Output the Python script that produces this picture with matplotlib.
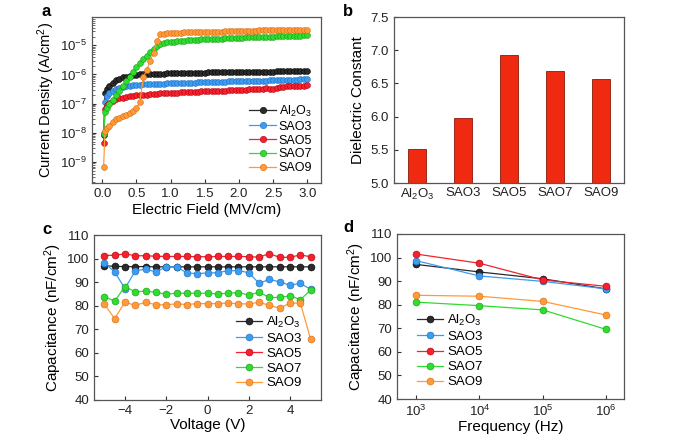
import numpy as np
import matplotlib
matplotlib.use("Agg")
import matplotlib.pyplot as plt

plt.rcParams['font.family'] = ['Liberation Sans', 'DejaVu Sans']
plt.rcParams['mathtext.fontset'] = 'custom'
plt.rcParams['mathtext.rm'] = 'Liberation Sans'
plt.rcParams['mathtext.it'] = 'Liberation Sans'

names = [r'Al$_2$O$_3$', 'SAO3', 'SAO5', 'SAO7', 'SAO9']
colors = ['#2b2b2b', '#3d9bf0', '#f5222d', '#2fdc2f', '#ff9a3a']
edges = ['#000000', '#1f6fc0', '#b00010', '#1a9a1a', '#d86a10']

# (a) J-E sweep, log10 of current density (A/cm2)
field = np.concatenate([[0.02, 0.04, 0.07], np.arange(0.10, 3.001, 0.05)])
logj_al2o3 = [-8.08, -6.65, -6.5, -6.4, -6.28, -6.2, -6.14, -6.1, -6.07, -6.05, -6.03,
              -6.01, -6.0, -5.99, -5.99, -5.98, -5.98, -5.97, -5.97, -5.97, -5.96, -5.96,
              -5.96, -5.96, -5.95, -5.95, -5.95, -5.95, -5.94, -5.94, -5.94, -5.94,
              -5.93, -5.93, -5.93, -5.93, -5.92, -5.92, -5.92, -5.92, -5.92, -5.91,
              -5.91, -5.91, -5.91, -5.91, -5.9, -5.9, -5.9, -5.9, -5.9, -5.9,
              -5.89, -5.89, -5.89, -5.89, -5.89, -5.88, -5.88, -5.88, -5.88, -5.88]
logj_sao3 = [-8.0, -6.95, -6.75, -6.65, -6.55, -6.49, -6.45, -6.42, -6.4, -6.38, -6.37,
             -6.36, -6.35, -6.34, -6.33, -6.33, -6.32, -6.32, -6.31, -6.31, -6.3, -6.3,
             -6.3, -6.29, -6.29, -6.29, -6.28, -6.28, -6.28, -6.27, -6.27, -6.27,
             -6.26, -6.26, -6.26, -6.25, -6.25, -6.25, -6.24, -6.24, -6.24, -6.23,
             -6.23, -6.23, -6.22, -6.22, -6.22, -6.21, -6.21, -6.21, -6.2, -6.2,
             -6.2, -6.19, -6.19, -6.19, -6.18, -6.18, -6.18, -6.17, -6.17, -6.17]
logj_sao5 = [-8.35, -7.2, -7.05, -6.98, -6.9, -6.85, -6.82, -6.79, -6.77, -6.75, -6.74,
             -6.72, -6.71, -6.7, -6.69, -6.68, -6.67, -6.66, -6.65, -6.65, -6.64, -6.63,
             -6.63, -6.62, -6.61, -6.61, -6.6, -6.6, -6.59, -6.59, -6.58, -6.58,
             -6.57, -6.57, -6.56, -6.56, -6.55, -6.55, -6.54, -6.54, -6.53, -6.53,
             -6.52, -6.52, -6.51, -6.51, -6.5, -6.5, -6.49, -6.48, -6.5, -6.51,
             -6.47, -6.44, -6.42, -6.41, -6.41, -6.4, -6.39, -6.39, -6.38, -6.37]
logj_sao7 = [-8.05, -7.3, -7.15, -7.02, -6.88, -6.72, -6.56, -6.4, -6.24, -6.08, -5.92,
             -5.76, -5.62, -5.48, -5.36, -5.24, -5.12, -5.03, -4.97, -4.93, -4.9, -4.88,
             -4.87, -4.86, -4.85, -4.84, -4.83, -4.82, -4.82, -4.81, -4.8, -4.8,
             -4.79, -4.78, -4.78, -4.77, -4.77, -4.76, -4.76, -4.75, -4.75, -4.74,
             -4.74, -4.73, -4.73, -4.72, -4.72, -4.71, -4.71, -4.7, -4.7, -4.7,
             -4.69, -4.69, -4.69, -4.68, -4.68, -4.68, -4.67, -4.67, -4.66, -4.66]
logj_sao9 = [-9.16, -7.95, -7.85, -7.75, -7.62, -7.54, -7.48, -7.43, -7.38, -7.32, -7.25,
             -7.15, -6.95, -6.1, -5.85, -5.55, -5.25, -4.85, -4.62, -4.6, -4.59, -4.58,
             -4.58, -4.57, -4.57, -4.56, -4.56, -4.56, -4.55, -4.55, -4.55, -4.54,
             -4.54, -4.54, -4.53, -4.53, -4.53, -4.52, -4.52, -4.52, -4.51, -4.51,
             -4.51, -4.5, -4.5, -4.5, -4.5, -4.49, -4.49, -4.49, -4.48, -4.48,
             -4.48, -4.48, -4.47, -4.47, -4.47, -4.47, -4.46, -4.46, -4.46, -4.46]

# (b) dielectric constant
k_values = [5.51, 5.98, 6.93, 6.68, 6.56]

# (c) C-V, nF/cm2
voltage = [-5, -4.5, -4, -3.5, -3, -2.5, -2, -1.5, -1, -0.5, 0,
           0.5, 1, 1.5, 2, 2.5, 3, 3.5, 4, 4.5, 5]
cv_al2o3 = [97.0, 96.7, 96.6, 96.6, 96.6, 96.5, 96.5, 96.5, 96.5, 96.5, 96.5,
            96.5, 96.5, 96.5, 96.5, 96.5, 96.5, 96.5, 96.5, 96.5, 96.5]
cv_sao3 = [98.3, 94.3, 87.3, 94.8, 95.5, 94.3, 96.5, 96.5, 93.9, 93.6, 93.9,
           94.0, 94.9, 94.9, 94.0, 89.5, 91.2, 90.1, 88.7, 89.5, 86.9]
cv_sao5 = [101.3, 101.4, 102.0, 101.2, 101.2, 101.0, 100.9, 100.9, 100.9, 100.8, 100.8,
           100.9, 100.9, 100.9, 100.8, 100.6, 102.1, 100.5, 100.6, 101.5, 100.8]
cv_sao7 = [83.9, 81.9, 88.1, 85.9, 86.2, 85.7, 84.9, 85.3, 85.3, 85.3, 85.3,
           85.0, 85.3, 85.6, 84.5, 85.7, 83.5, 83.5, 84.2, 82.6, 86.6]
cv_sao9 = [80.8, 74.5, 81.6, 80.1, 81.5, 80.4, 80.4, 80.8, 80.5, 80.9, 80.9,
           80.9, 81.1, 80.9, 80.7, 81.5, 80.1, 79.0, 81.1, 81.1, 65.7]

# (d) C-f, nF/cm2
freq = [1e3, 1e4, 1e5, 1e6]
cf_al2o3 = [97.1, 93.9, 91.0, 86.7]
cf_sao3 = [98.7, 92.2, 89.9, 86.7]
cf_sao5 = [101.5, 97.6, 90.5, 87.8]
cf_sao7 = [81.1, 79.6, 77.8, 69.5]
cf_sao9 = [84.0, 83.6, 81.4, 75.6]

W, H = 686, 443
fig = plt.figure(figsize=(W / 100, H / 100), dpi=100)


def box(l, t, r, b):
    return [l / W, 1 - b / H, (r - l) / W, (b - t) / H]


def style(ax):
    for s in ax.spines.values():
        s.set_color('#555555')
        s.set_linewidth(0.9)
    ax.tick_params(direction='in', labelsize=9.5, colors='#333333',
                   labelcolor='#222222', length=3, width=0.8)
    ax.tick_params(which='minor', direction='in', length=1.8, width=0.6, colors='#555555')


ax_a = fig.add_axes(box(92, 17, 321, 183))
ax_b = fig.add_axes(box(394, 17, 624, 183))
ax_c = fig.add_axes(box(94, 235, 321, 400))
ax_d = fig.add_axes(box(397, 234, 624, 399))

# panel a
for lj, name, c, e in zip([logj_al2o3, logj_sao3, logj_sao5, logj_sao7, logj_sao9],
                          names, colors, edges):
    ax_a.plot(field, 10 ** np.array(lj), '-o', color=c, mfc=c, mec=e, mew=0.4,
              ms=4.2, lw=0.9, label=name)
ax_a.set_yscale('log')
ax_a.set_xlim(-0.15, 3.2)
ax_a.set_ylim(10 ** -9.72, 10 ** -4.03)
ax_a.set_xticks([0, 0.5, 1, 1.5, 2, 2.5, 3])
ax_a.set_xticklabels(['0.0', '0.5', '1.0', '1.5', '2.0', '2.5', '3.0'])
ax_a.set_yticks([1e-9, 1e-8, 1e-7, 1e-6, 1e-5])
ax_a.set_xlabel('Electric Field (MV/cm)', fontsize=11, labelpad=2)
ax_a.set_ylabel(r'Current Density (A/cm$^2$)', fontsize=10.5, labelpad=2)
style(ax_a)
ax_a.legend(loc='lower right', frameon=False, fontsize=9, handlelength=2.2,
            handletextpad=0.2, labelspacing=0.15, borderaxespad=0.3, numpoints=1,
            markerscale=1.1)

# panel b
ax_b.bar(range(len(names)), np.array(k_values) - 5.0, bottom=5.0, width=0.4,
         color='#f02a10', edgecolor='#8a1a0a', linewidth=0.6)
ax_b.set_xlim(-0.5, 4.5)
ax_b.set_ylim(5.0, 7.5)
ax_b.set_xticks(range(len(names)))
ax_b.set_xticklabels(names)
ax_b.set_yticks([5.0, 5.5, 6.0, 6.5, 7.0, 7.5])
ax_b.set_ylabel('Dielectric Constant', fontsize=11, labelpad=4)
style(ax_b)
ax_b.tick_params(axis='x', length=0, pad=3)

# panel c
for cv, name, c, e in zip([cv_al2o3, cv_sao3, cv_sao5, cv_sao7, cv_sao9], names, colors, edges):
    ax_c.plot(voltage, cv, '-o', color=c, mfc=c, mec=e, mew=0.4, ms=5, lw=0.9, label=name)
ax_c.set_xlim(-5.5, 5.5)
ax_c.set_ylim(40, 110)
ax_c.set_xticks([-4, -2, 0, 2, 4])
ax_c.set_yticks(range(40, 111, 10))
ax_c.set_xlabel('Voltage (V)', fontsize=11, labelpad=1)
ax_c.set_ylabel(r'Capacitance (nF/cm$^2$)', fontsize=11, labelpad=2)
style(ax_c)
ax_c.legend(loc='lower right', frameon=False, fontsize=9.5, handlelength=2.0,
            handletextpad=0.3, labelspacing=0.2, borderaxespad=0.4, numpoints=1,
            bbox_to_anchor=(0.96, 0.0))

# panel d
for cf, name, c, e in zip([cf_al2o3, cf_sao3, cf_sao5, cf_sao7, cf_sao9], names, colors, edges):
    ax_d.plot(freq, cf, '-o', color=c, mfc=c, mec=e, mew=0.4, ms=5, lw=0.9, label=name)
ax_d.set_xscale('log')
ax_d.set_xlim(10 ** 2.7, 10 ** 6.28)
ax_d.set_ylim(40, 110)
ax_d.set_xticks(freq)
ax_d.set_yticks(range(40, 111, 10))
ax_d.minorticks_off()
ax_d.set_xlabel('Frequency (Hz)', fontsize=11, labelpad=1)
ax_d.set_ylabel(r'Capacitance (nF/cm$^2$)', fontsize=11, labelpad=2)
style(ax_d)
ax_d.legend(loc='lower left', frameon=False, fontsize=9.5, handlelength=2.0,
            handletextpad=0.3, labelspacing=0.22, borderaxespad=0.4, numpoints=1,
            bbox_to_anchor=(0.04, 0.0))

for lbl, (x, y) in zip('abcd', [(42, 11), (343, 12), (42, 229), (343, 228)]):
    fig.text(x / W, 1 - y / H, lbl, fontsize=12, fontweight='bold', va='center', ha='left')

fig.savefig('out.png', dpi=100)
